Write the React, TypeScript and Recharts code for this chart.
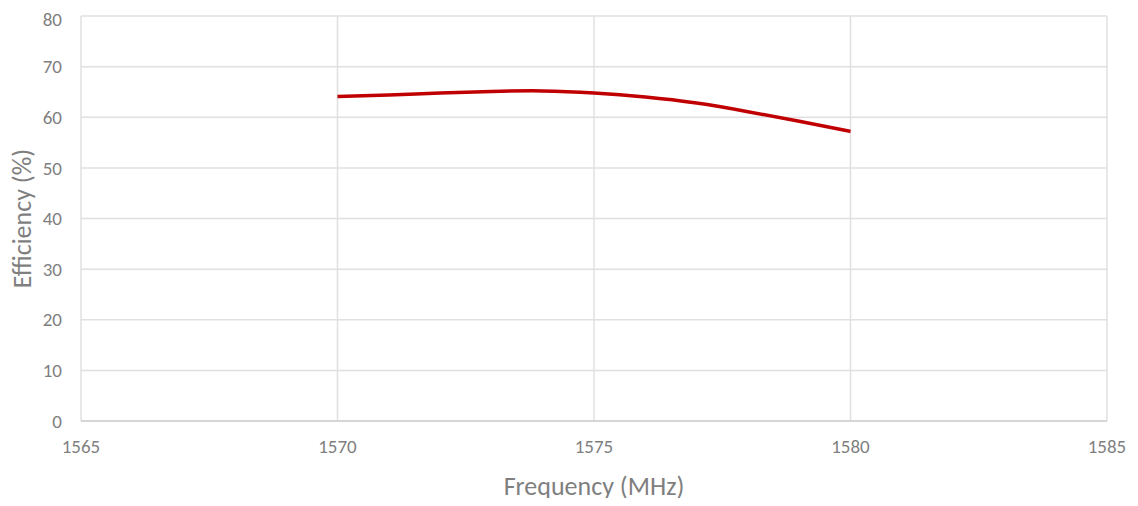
import React from "react";
import { CartesianGrid, Label, Line, LineChart, XAxis, YAxis } from "recharts";

const frequencies = [1570, 1571, 1572, 1573, 1574, 1575, 1576, 1577, 1578, 1579, 1580];
const efficiency = [64.1, 64.4, 64.8, 65.1, 65.2, 64.8, 64.0, 62.8, 61.1, 59.2, 57.2];
const xTicks = [1565, 1570, 1575, 1580, 1585];
const yTicks = [0, 10, 20, 30, 40, 50, 60, 70, 80];

const data = frequencies.map((f, i) => ({ freq: f, eff: efficiency[i] }));

const font = "Carlito, 'Open Sans', 'Liberation Sans', sans-serif";
const textColor = "#7f7f7f";

function YTitle({ viewBox }: any) {
  const cx = viewBox.x + 14;
  const cy = viewBox.y + viewBox.height / 2;
  return (
    <text
      x={cx}
      y={cy}
      transform={`rotate(-90, ${cx}, ${cy})`}
      textAnchor="middle"
      dominantBaseline="central"
      fill={textColor}
      fontSize={26}
      fontFamily={font}
    >
      Efficiency (%)
    </text>
  );
}

export default function App() {
  return (
    <LineChart
      width={1122}
      height={490}
      data={data}
      margin={{ top: 8, right: 23, left: 0, bottom: 0 }}
    >
      <CartesianGrid stroke="#e0e0e0" strokeWidth={1.5} />
      <XAxis
        dataKey="freq"
        type="number"
        domain={[1565, 1585]}
        ticks={xTicks}
        height={77}
        tickLine={false}
        tickSize={0}
        tickMargin={19}
        axisLine={{ stroke: "#d0d0d0", strokeWidth: 1.5 }}
        tick={{ fill: textColor, fontSize: 19, fontFamily: font }}
      >
        <Label
          value="Frequency (MHz)"
          position="insideBottom"
          offset={3}
          fill={textColor}
          fontSize={26}
          fontFamily={font}
        />
      </XAxis>
      <YAxis
        type="number"
        domain={[0, 80]}
        ticks={yTicks}
        width={73}
        tickLine={false}
        axisLine={false}
        tickSize={0}
        tickMargin={19}
        tick={{ fill: textColor, fontSize: 19, fontFamily: font }}
      >
        <Label content={<YTitle />} />
      </YAxis>
      <Line
        dataKey="eff"
        type="natural"
        stroke="#c00000"
        strokeWidth={3.5}
        dot={false}
        isAnimationActive={false}
      />
    </LineChart>
  );
}
